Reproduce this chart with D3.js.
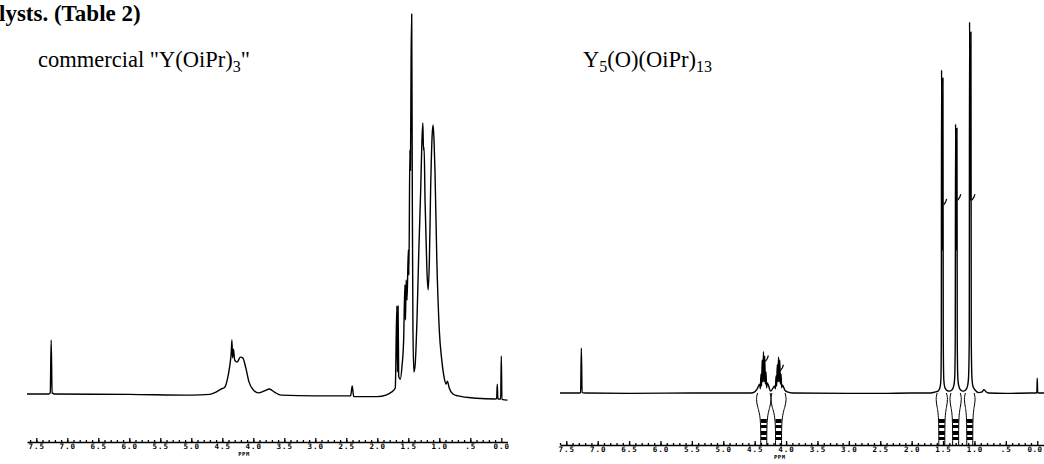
<!DOCTYPE html>
<html>
<head>
<meta charset="utf-8">
<script src="https://cdn.jsdelivr.net/npm/d3@7"></script>
<style>
  body { margin: 0; background: #fff; }
  svg { display: block; }
  .trace { fill: none; stroke: #000; stroke-width: 1.4px; stroke-linejoin: round; }
  .axis path, .axis line { stroke: #000; stroke-width: 1.3px; }
  .axis text { font-family: "DejaVu Sans Mono", monospace; font-weight: bold; font-size: 7.5px; fill: #000; }
  .title { font-family: "Liberation Serif", "Times New Roman", serif; fill: #000; }
</style>
</head>
<body>
<div id="chart"></div>
<script>
// tick labels as printed under both spectra
var tickValues = [7.5, 7.0, 6.5, 6.0, 5.5, 5.0, 4.5, 4.0, 3.5, 3.0, 2.5, 2.0, 1.5, 1.0, 0.5, 0.0];
var tickLabels = ["7.5", "7.0", "6.5", "6.0", "5.5", "5.0", "4.5", "4.0", "3.5", "3.0", "2.5", "2.0", "1.5", "1.0", ".5", "0.0"];
var minorTicks = d3.range(76).map(function(i){ return +(7.6 - i*0.1).toFixed(1); });

// commercial "Y(OiPr)3" : [ppm, relative intensity]
var leftTrace = [
  [7.65,0],[7.30,0],[7.275,0.3],[7.26,14.2],[7.245,0.3],[7.2,0],[6.0,-0.1],[5.0,-0.3],
  [4.70,-0.1],[4.60,0.5],[4.52,1.3],[4.46,1.8],[4.42,3.7],[4.38,7.4],[4.355,11.1],[4.345,14.2],
  [4.335,9.5],[4.32,11.8],[4.30,8.9],[4.26,8.4],[4.21,9.7],[4.17,9.5],[4.12,6.8],[4.07,3.2],
  [4.00,1.1],[3.92,0.3],[3.82,0.8],[3.74,1.3],[3.66,0.5],[3.55,-0.3],[3.0,-0.5],[2.43,-0.5],
  [2.405,2.1],[2.38,-0.7],[2.0,-0.7],[1.86,-0.3],[1.77,0.5],[1.71,1.6],[1.685,23.2],[1.675,5.8],
  [1.665,23.2],[1.655,4.7],[1.63,3.9],[1.60,7.6],[1.575,14.2],[1.555,28.7],[1.545,19.5],[1.535,30],
  [1.52,24.7],[1.50,37.9],[1.49,31.3],[1.475,64.2],[1.465,58.9],[1.455,87.9],[1.445,100],[1.435,51],
  [1.425,16.8],[1.41,5.8],[1.39,7.6],[1.36,19.5],[1.33,37.9],[1.30,53.7],[1.28,66.8],[1.265,71.3],
  [1.255,64.2],[1.245,64.9],[1.23,51],[1.20,32.6],[1.18,27.4],[1.16,35.3],[1.14,53.7],[1.115,68.2],
  [1.10,70.8],[1.085,66.8],[1.07,58.9],[1.04,35.3],[1.00,16.8],[0.96,8.9],[0.92,4.2],[0.89,2.6],
  [0.87,3.4],[0.84,1.6],[0.78,0],[0.70,-0.5],[0.40,-1.1],[0.10,-1.3],[0.075,-1.2],[0.065,2.6],
  [0.055,-1.3],[0.01,-1.3],[0.0,10],[-0.01,-1.4],[-0.10,-1.6]
];

// Y5(O)(OiPr)13
var rightTrace = [
  [7.6,0],[7.29,0],[7.272,0.1],[7.26,12.1],[7.248,0.1],[7.2,0],[6.5,-0.1],[5.5,0],[4.56,0],
  [4.50,0.3],[4.46,1.1],
  [4.42,2.4],[4.41,1.1],[4.40,5.1],[4.39,1.9],[4.38,8.9],[4.37,3.0],[4.36,11.1],[4.35,3.0],
  [4.34,10.0],[4.33,2.4],[4.32,5.7],[4.31,1.4],[4.30,2.7],
  [4.245,0.5],
  [4.18,1.9],[4.17,1.1],[4.16,4.6],[4.15,1.9],[4.14,7.6],[4.13,3.0],[4.12,9.7],[4.11,3.0],
  [4.10,8.9],[4.09,2.4],[4.08,5.1],[4.07,1.4],[4.06,2.2],
  [4.02,0.8],[3.98,0.3],[3.9,0],[3.0,-0.1],[2.5,-0.1],[2.0,0],[1.7,0],[1.62,0.3],
  [1.58,0.5],[1.55,1.4],[1.535,3.5],[1.528,14.3],[1.524,87.1],[1.513,38.5],[1.502,84.9],
  [1.497,14.3],[1.488,3.5],[1.47,1.4],[1.44,0.7],[1.40,0.5],[1.36,0.8],[1.33,1.9],[1.315,4.0],
  [1.306,14.3],[1.301,72.5],[1.29,38.5],[1.279,71.4],[1.274,14.3],[1.265,4.0],[1.25,1.9],
  [1.22,0.8],[1.18,0.5],[1.14,0.8],[1.11,1.9],[1.095,4.0],[1.083,14.3],[1.078,100],[1.067,52],
  [1.056,97.3],[1.051,14.3],[1.04,4.0],[1.025,1.9],[0.99,0.8],[0.93,0.1],[0.88,0.3],[0.85,0.9],
  [0.82,0.4],[0.78,0],[0.5,-0.1],[0.1,0],[0.02,0],[0.006,0.3],[0.0,4.0],[-0.006,0.3],[-0.02,0],[-0.12,0]
];

// integration regions (ppm) drawn under the Y5(O)(OiPr)13 trace
var rightIntegrals = [[4.47, 4.24], [4.24, 4.00], [1.61, 1.43], [1.39, 1.21], [1.16, 0.99]];
// small pen hooks on top of integrated peaks [ppm, intensity]
var rightHooks = [[4.33, 8.5], [4.09, 6.0], [1.49, 50.7], [1.265, 52], [1.04, 52]];

var width = 1044, height = 464;
var svg = d3.select("#chart").append("svg").attr("width", width).attr("height", height);

function drawPanel(trace, x, y, axisY, ppmX) {
  var line = d3.line()
    .x(function(d){ return x(d[0]); })
    .y(function(d){ return y(d[1]); })
    .curve(d3.curveMonotoneX);

  svg.append("path").datum(trace).attr("class", "trace").attr("d", line);

  var g = svg.append("g").attr("class", "axis").attr("transform", "translate(0," + axisY + ")");
  g.call(d3.axisBottom(x).tickValues(minorTicks.filter(function(v){ return v <= x.domain()[0] && v >= x.domain()[1]; }))
    .tickSize(-2).tickSizeOuter(0).tickFormat(""));
  var g2 = svg.append("g").attr("class", "axis").attr("transform", "translate(0," + axisY + ")");
  g2.call(d3.axisBottom(x).tickValues(tickValues).tickSize(-4).tickSizeOuter(0).tickPadding(2)
    .tickFormat(function(d, i){ return tickLabels[i]; }));
  g2.select(".domain").remove();
  g2.selectAll("text").attr("dy", "0.71em").style("letter-spacing", "1px");
  // keep the last label inside the page edge
  g2.selectAll("text").filter(function(d){ return x(d) > width - 12; })
    .attr("text-anchor", "end").style("letter-spacing", "0.5px")
    .attr("dx", function(d){ return (width - 2) - x(d); });

  svg.append("text").attr("class", "axis")
    .attr("x", ppmX).attr("y", axisY + 14)
    .attr("text-anchor", "middle")
    .style("font-family", "DejaVu Sans Mono, monospace").style("font-weight", "bold")
    .style("font-size", "5.5px").style("letter-spacing", "0.5px")
    .text("PPM");
}

var xL = d3.scaleLinear().domain([7.65, -0.1]).range([27, 507.5]);
var yL = d3.scaleLinear().domain([0, 100]).range([394, 14]);
drawPanel(leftTrace, xL, yL, 442, xL(4.15));

var xR = d3.scaleLinear().domain([7.6, -0.12]).range([560, 1044.8]);
var yR = d3.scaleLinear().domain([0, 100]).range([393, 22]);
drawPanel(rightTrace, xR, yR, 445, xR(4.1));

// integral funnels with printed value columns
var base = yR(0), colTop = 417, colBot = 445;
rightIntegrals.forEach(function(r) {
  var a = xR(r[0]), b = xR(r[1]), c = (a + b) / 2, w = 3;
  var outline = d3.line().curve(d3.curveBasis);
  svg.append("path").attr("class", "trace").style("stroke-width", "1px")
    .attr("d", outline([[a + 1, base], [a - 0.5, base + 6], [a + 1, base + 14], [c - w, colTop], [c - w, colBot]]));
  svg.append("path").attr("class", "trace").style("stroke-width", "1px")
    .attr("d", outline([[b - 1, base], [b + 0.5, base + 6], [b - 1, base + 14], [c + w, colTop], [c + w, colBot]]));
  [0, 1, 2, 3].forEach(function(k) {
    svg.append("rect").attr("x", c - w).attr("y", colTop + 2 + k * 6)
      .attr("width", 2 * w).attr("height", k % 2 ? 3 : 4).attr("fill", "#000");
  });
});

rightHooks.forEach(function(h) {
  var px = xR(h[0]), py = yR(h[1]);
  svg.append("path").attr("class", "trace").style("stroke-width", "1.2px")
    .attr("d", "M" + px + "," + py + "l2,-3l1,-3");
});

// headings
svg.append("text").attr("class", "title").attr("x", -1).attr("y", 21)
  .style("font-size", "23px").style("font-weight", "bold").text("lysts. (Table 2)");

var t1 = svg.append("text").attr("class", "title").attr("x", 38).attr("y", 67).style("font-size", "22.5px");
t1.append("tspan").text("commercial \"Y(OiPr)");
t1.append("tspan").attr("dy", 5).style("font-size", "16px").text("3");
t1.append("tspan").attr("dy", -5).text("\"");

var t2 = svg.append("text").attr("class", "title").attr("x", 583).attr("y", 67).style("font-size", "22.5px");
t2.append("tspan").text("Y");
t2.append("tspan").attr("dy", 5).style("font-size", "16px").text("5");
t2.append("tspan").attr("dy", -5).text("(O)(OiPr)");
t2.append("tspan").attr("dy", 5).style("font-size", "16px").text("13");
</script>
</body>
</html>
